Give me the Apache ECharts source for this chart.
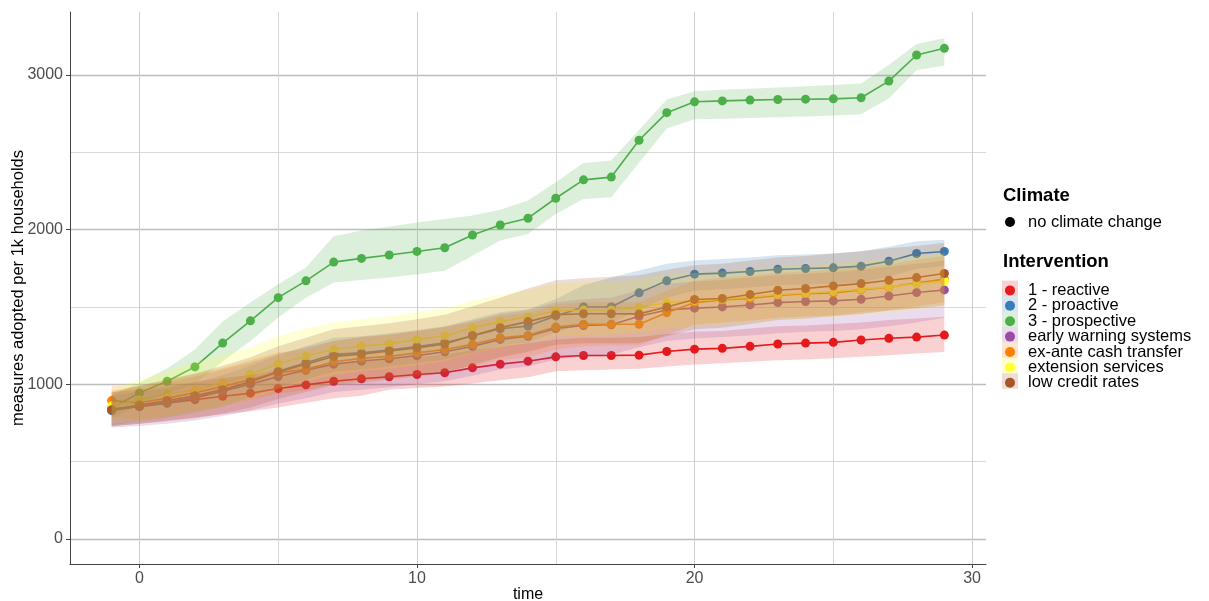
<!DOCTYPE html>
<html><head><meta charset="utf-8">
<script src="https://cdn.jsdelivr.net/npm/echarts@6/dist/echarts.min.js"></script>
<style>html,body{margin:0;padding:0;background:#fff}#c{width:1209px;height:601px}</style>
</head><body><div id="c"></div>
<script>
const times = [-1,0,1,2,3,4,5,6,7,8,9,10,11,12,13,14,15,16,17,18,19,20,21,22,23,24,25,26,27,28,29];
const names = ['1 - reactive','2 - proactive','3 - prospective','early warning systems','ex-ante cash transfer','extension services','low credit rates'];
const colors = ['#E41A1C','#377EB8','#4DAF4A','#984EA3','#FF7F00','#FFFF33','#A65628'];
const xTicks = [0,10,20,30];
const xMinorTicks = [5,15,25];
const yTicks = [0,1000,2000,3000];
const yMinorTicks = [500,1500,2500];

const reactive   = [838,855,878,900,922,942,972,996,1019,1035,1048,1063,1074,1106,1130,1149,1177,1186,1186,1188,1212,1227,1232,1245,1260,1266,1271,1286,1297,1305,1318];
const reactiveLo = [727,745,765,785,805,825,850,880,910,925,965,975,985,1005,1025,1045,1084,1090,1095,1100,1115,1128,1135,1145,1155,1160,1168,1178,1188,1198,1208];
const reactiveHi = [950,965,990,1015,1040,1060,1090,1115,1130,1150,1160,1175,1190,1220,1245,1265,1290,1300,1300,1305,1325,1340,1345,1360,1375,1380,1390,1400,1415,1425,1437];

const proactive   = [829,857,878,911,955,1019,1084,1139,1193,1203,1221,1243,1268,1312,1359,1377,1442,1500,1500,1591,1669,1712,1719,1729,1744,1749,1753,1764,1796,1846,1859];
const proactiveLo = [735,760,785,815,855,915,975,1030,1080,1095,1115,1135,1160,1205,1250,1270,1335,1390,1395,1480,1560,1605,1615,1625,1640,1645,1650,1660,1695,1745,1765];
const proactiveHi = [925,955,975,1010,1060,1120,1190,1245,1300,1310,1330,1350,1375,1420,1465,1485,1550,1640,1690,1735,1780,1800,1810,1820,1835,1840,1845,1860,1890,1925,1935];

const prospective   = [846,944,1019,1112,1266,1410,1560,1669,1790,1814,1836,1859,1883,1965,2030,2074,2203,2322,2340,2578,2757,2827,2833,2838,2842,2844,2846,2853,2961,3130,3173];
const prospectiveLo = [780,870,940,1000,1149,1279,1431,1560,1658,1675,1690,1712,1734,1831,1929,1972,2102,2199,2210,2432,2654,2714,2718,2722,2727,2732,2738,2746,2849,3032,3060];
const prospectiveHi = [930,1009,1101,1225,1405,1528,1647,1755,1957,1994,2019,2047,2069,2091,2128,2188,2307,2431,2448,2645,2842,2896,2905,2912,2920,2928,2936,2946,3065,3201,3238];

const warning   = [840,860,885,915,955,1000,1050,1090,1130,1150,1165,1185,1210,1245,1290,1310,1360,1380,1385,1440,1480,1492,1500,1513,1528,1535,1539,1550,1571,1593,1610];
const warningLo = [720,730,745,765,795,830,875,910,950,965,980,1000,1020,1055,1095,1115,1160,1180,1190,1240,1280,1295,1305,1315,1330,1340,1345,1355,1375,1400,1430];
const warningHi = [960,985,1015,1050,1095,1140,1195,1240,1280,1305,1320,1345,1370,1410,1455,1480,1530,1550,1560,1610,1650,1665,1675,1690,1705,1715,1725,1740,1760,1780,1800];

const cash   = [894,880,910,945,985,1030,1075,1095,1145,1167,1180,1203,1225,1258,1301,1316,1370,1388,1388,1388,1463,1528,1545,1555,1575,1585,1591,1610,1628,1655,1680];
const cashLo = [790,770,795,825,860,900,940,960,1005,1025,1040,1060,1085,1115,1155,1175,1225,1245,1250,1250,1320,1385,1400,1410,1430,1440,1445,1465,1480,1505,1530];
const cashHi = [990,990,1025,1065,1105,1155,1205,1225,1280,1305,1320,1345,1370,1400,1445,1460,1515,1530,1530,1530,1605,1670,1690,1700,1720,1730,1740,1755,1775,1805,1830];

const extension   = [860,900,935,965,1010,1063,1132,1182,1225,1247,1262,1290,1312,1366,1405,1437,1474,1480,1480,1496,1528,1540,1550,1565,1580,1590,1600,1615,1630,1650,1668];
const extensionLo = [745,760,790,815,855,905,970,1020,1060,1085,1100,1125,1150,1200,1240,1270,1310,1320,1320,1335,1365,1375,1385,1400,1415,1425,1435,1450,1465,1485,1500];
const extensionHi = [965,1030,1085,1140,1190,1240,1310,1360,1400,1420,1440,1465,1490,1540,1580,1610,1650,1660,1665,1680,1710,1720,1730,1745,1760,1770,1780,1795,1810,1830,1845];

const credit   = [835,865,895,925,965,1015,1080,1130,1180,1195,1215,1235,1260,1315,1366,1405,1450,1456,1456,1455,1500,1548,1555,1580,1608,1619,1636,1651,1673,1690,1716];
const creditLo = [730,745,760,780,810,850,905,950,995,1010,1030,1050,1075,1125,1175,1210,1255,1265,1265,1265,1310,1355,1365,1390,1415,1425,1440,1455,1475,1490,1510];
const creditHi = [945,990,1030,1070,1120,1175,1245,1300,1355,1375,1395,1420,1450,1505,1560,1620,1673,1685,1695,1705,1740,1770,1780,1800,1820,1830,1845,1860,1880,1895,1915];

const values = [reactive, proactive, prospective, warning, cash, extension, credit];
const lows   = [reactiveLo, proactiveLo, prospectiveLo, warningLo, cashLo, extensionLo, creditLo];
const highs  = [reactiveHi, proactiveHi, prospectiveHi, warningHi, cashHi, extensionHi, creditHi];

function rgba(hex, a) {
  const n = parseInt(hex.slice(1), 16);
  return 'rgba(' + ((n >> 16) & 255) + ',' + ((n >> 8) & 255) + ',' + (n & 255) + ',' + a + ')';
}

const FONT = 'Liberation Sans, Arial, sans-serif';
const series = [];
names.forEach((nm, k) => {
  series.push({
    type: 'line', name: nm, z: 2,
    data: times.map((t, i) => [t, values[k][i]]),
    symbol: 'circle', symbolSize: 9, showSymbol: true,
    lineStyle: { width: 1.6, color: colors[k] },
    itemStyle: { color: colors[k] },
    emphasis: { disabled: true }, animation: false
  });
});
names.forEach((nm, k) => {
  const data = times.map((t, i) => [t, lows[k][i], highs[k][i]]);
  series.push({
    type: 'custom', name: nm, z: 5, silent: true, animation: false,
    data: data, encode: { x: 0, y: [1, 2] },
    renderItem: function (params, api) {
      if (params.dataIndex !== 0) return null;
      const top = data.map(d => api.coord([d[0], d[2]]));
      const bot = data.map(d => api.coord([d[0], d[1]])).reverse();
      return { type: 'polygon', shape: { points: top.concat(bot) }, style: { fill: rgba(colors[k], 0.2) } };
    }
  });
});

const legendTop = 280.6, rowH = 15.45;
const graphics = [
  { type: 'text', left: 1003, top: 186, style: { text: 'Climate', font: 'bold 18.5px ' + FONT, fill: '#000' } },
  { type: 'circle', shape: { cx: 1010, cy: 222, r: 5 }, style: { fill: '#000' } },
  { type: 'text', left: 1028, top: 213.5, style: { text: 'no climate change', font: '16.5px ' + FONT, fill: '#000' } },
  { type: 'text', left: 1003, top: 252, style: { text: 'Intervention', font: 'bold 18.5px ' + FONT, fill: '#000' } }
];
names.forEach((nm, k) => {
  graphics.push({ type: 'rect', z: -1, shape: { x: 1002, y: legendTop + k * rowH, width: 16, height: rowH }, style: { fill: rgba(colors[k], 0.2) } });
});

const fmt = v => String(v);
const chart = echarts.init(document.getElementById('c'), null, { renderer: 'canvas' });
chart.setOption({
  animation: false,
  backgroundColor: '#fff',
  grid: { left: 70, right: 223, top: 12, bottom: 37, containLabel: false, outerBoundsMode: 'none' },
  xAxis: [
    {
      type: 'value', min: -2.5, max: 30.5, name: 'time', nameLocation: 'middle', nameGap: 23, nameMoveOverlap: false,
      nameTextStyle: { fontSize: 16, color: '#000', fontFamily: FONT },
      axisLine: { show: true, onZero: false, lineStyle: { color: '#444', width: 1 } },
      axisTick: { show: true, length: 4, customValues: xTicks, lineStyle: { color: '#444' } },
      axisLabel: { customValues: xTicks, formatter: fmt, margin: 7, fontSize: 16, color: '#4D4D4D', fontFamily: FONT },
      splitLine: { show: true, lineStyle: { color: '#cdcdcd', width: 1 } }
    },
    {
      type: 'value', min: -2.5, max: 30.5, position: 'bottom',
      axisLine: { show: false }, axisTick: { show: false, customValues: xMinorTicks },
      axisLabel: { show: false, customValues: xMinorTicks },
      splitLine: { show: true, lineStyle: { color: '#d6d6d6', width: 1 } }
    }
  ],
  yAxis: [
    {
      type: 'value', min: -163, max: 3408, name: 'measures adopted per 1k households', nameLocation: 'middle', nameGap: 43, nameMoveOverlap: false,
      nameTextStyle: { fontSize: 16.5, color: '#000', fontFamily: FONT },
      axisLine: { show: true, onZero: false, lineStyle: { color: '#444', width: 1 } },
      axisTick: { show: true, length: 4, customValues: yTicks, lineStyle: { color: '#444' } },
      axisLabel: { customValues: yTicks, formatter: fmt, margin: 7, fontSize: 16, color: '#4D4D4D', fontFamily: FONT },
      splitLine: { show: true, lineStyle: { color: '#bdbdbd', width: 1.3 } }
    },
    {
      type: 'value', min: -163, max: 3408, position: 'left',
      axisLine: { show: false }, axisTick: { show: false, customValues: yMinorTicks },
      axisLabel: { show: false, customValues: yMinorTicks },
      splitLine: { show: true, lineStyle: { color: '#d9d9d9', width: 1 } }
    }
  ],
  legend: {
    orient: 'vertical', left: 1005, top: 281.9, padding: 0, icon: 'circle',
    itemWidth: 16, itemHeight: 10, itemGap: -1.6, selectedMode: false,
    textStyle: { fontSize: 16.5, lineHeight: 15, color: '#000', fontFamily: FONT, padding: [0, 0, 0, 5] },
    data: names.map((n, k) => ({ name: n, itemStyle: { color: colors[k] } }))
  },
  graphic: graphics,
  series: series
});
</script></body></html>
